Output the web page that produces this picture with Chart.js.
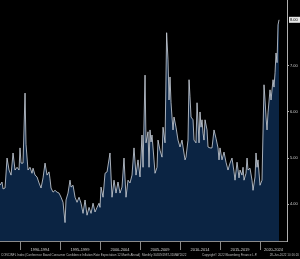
<!DOCTYPE html>
<html>
<head>
<meta charset="utf-8">
<script src="https://cdn.jsdelivr.net/npm/chart.js@4"></script>
<style>
  html, body { margin: 0; padding: 0; background: #000; }
  canvas { display: block; }
</style>
</head>
<body>
<canvas id="chart" width="300" height="259"></canvas>
<script>
// decimal year of each reading and the 12-month inflation expectation (%)
const years = [
  1987.5, 1987.75, 1987.88, 1988.13, 1988.38, 1988.63, 1988.88, 1989.13, 1989.38, 1989.63, 1989.88,
  1990.0, 1990.13, 1990.38, 1990.63, 1990.75, 1991.0, 1991.25, 1991.5, 1991.63, 1991.88,
  1992.13, 1992.38, 1992.63, 1992.88, 1993.13, 1993.38, 1993.63, 1993.75, 1993.88,
  1994.13, 1994.38, 1994.63, 1994.88, 1995.13, 1995.38, 1995.63, 1995.75,
  1996.0, 1996.25, 1996.38, 1996.63, 1996.88, 1997.13, 1997.38, 1997.63, 1997.88,
  1998.13, 1998.38, 1998.63, 1998.88, 1999.13, 1999.38, 1999.63, 1999.88,
  2000.0, 2000.13, 2000.38, 2000.63, 2000.88, 2001.25, 2001.5, 2001.75,
  2002.0, 2002.25, 2002.5, 2002.75, 2003.0, 2003.25, 2003.5, 2003.75,
  2004.0, 2004.25, 2004.5, 2004.75, 2005.0, 2005.25, 2005.38, 2005.63, 2005.75,
  2006.0, 2006.13, 2006.25, 2006.38, 2006.5, 2006.75, 2006.88,
  2007.13, 2007.25, 2007.5, 2007.75, 2007.88, 2008.13, 2008.33, 2008.5, 2008.63, 2008.75, 2008.88,
  2009.0, 2009.13, 2009.25, 2009.5, 2009.75,
  2010.0, 2010.25, 2010.38, 2010.63, 2010.75, 2011.0, 2011.13, 2011.25, 2011.38, 2011.63, 2011.75,
  2012.0, 2012.13, 2012.38, 2012.5, 2012.63, 2012.75, 2012.88,
  2013.0, 2013.13, 2013.38, 2013.5, 2013.75, 2014.0, 2014.25, 2014.5, 2014.75, 2014.88,
  2015.0, 2015.25, 2015.5, 2015.75, 2016.0, 2016.25, 2016.5, 2016.75, 2016.88,
  2017.13, 2017.38, 2017.5, 2017.75, 2017.88, 2018.0, 2018.25, 2018.38, 2018.5, 2018.75,
  2019.0, 2019.13, 2019.38, 2019.5, 2019.63, 2019.75,
  2020.0, 2020.25, 2020.5, 2020.63, 2020.75, 2020.88, 2021.0, 2021.25, 2021.38, 2021.63, 2021.75, 2021.88,
  2022.0, 2022.13, 2022.25, 2022.38
];
const values = [
  4.41, 4.48, 4.33, 4.35, 5.0, 4.74, 4.63, 5.11, 4.74, 4.8, 4.74,
  5.22, 4.89, 4.89, 6.41, 5.3, 4.74, 4.8, 4.67, 4.78, 4.63,
  4.59, 4.46, 4.35, 4.57, 4.89, 4.63, 4.7, 4.55, 4.35,
  4.26, 4.3, 4.26, 4.24, 4.15, 4.04, 3.6, 4.09,
  4.24, 4.52, 4.37, 4.41, 4.15, 4.04, 4.15, 4.02, 3.8,
  4.09, 3.76, 3.93, 3.8, 4.02, 3.83, 3.93, 4.02,
  3.93, 4.37, 4.15, 4.67, 4.7, 5.11, 4.15, 4.52,
  4.24, 4.48, 4.24, 4.37, 5.0, 4.15, 4.52, 4.46,
  4.63, 5.22, 4.63, 4.96, 4.59, 5.5, 4.8, 6.8, 5.33,
  5.57, 4.8, 5.61, 5.35, 5.5, 4.96, 4.67,
  4.8, 5.39, 5.17, 5.02, 5.67, 5.33, 7.72, 7.13, 6.26, 6.76, 6.2,
  5.89, 5.61, 5.89, 5.67, 5.39,
  5.24, 5.39, 5.24, 4.96, 5.02, 5.39, 6.7, 6.33, 5.89, 5.83, 5.39,
  5.33, 6.2, 5.33, 6.0, 5.67, 5.83, 5.54,
  5.39, 5.83, 5.61, 5.24, 5.22, 5.22, 5.61, 5.43, 5.22, 4.96,
  5.22, 4.96, 5.13, 4.91, 4.74, 4.89, 5.0, 4.7, 4.52,
  4.91, 4.57, 4.74, 4.63, 4.8, 4.52, 4.67, 5.0, 4.74, 4.78,
  4.52, 4.3, 4.59, 5.11, 4.8, 4.96,
  4.41, 4.52, 6.59, 6.26, 5.89, 5.61, 5.98, 6.48, 6.26, 6.7, 6.54, 6.85,
  7.28, 7.07, 7.89, 8.0
];
const periodStarts = [1990, 1995, 2000, 2005, 2010, 2015, 2020];
const periodLabels = ['1990-1994', '1995-1999', '2000-2004', '2005-2009', '2010-2014', '2015-2019', '2020-2024'];
const yTicks = [4, 5, 6, 7];

const footerLeft = 'CONCINFL Index (Conference Board Consumer Confidence Inflation Rate Expectation 12 Month Ahead)  Monthly 30JUN1987-31MAY2022';
const footerMid = 'Copyright\u00a9 2022 Bloomberg Finance L.P.';
const footerRight = '28-Jun-2022 10:16:20';

const X_MIN = 1987.5, X_MAX = 2023.375;
const FONT = "'Liberation Sans', Arial, sans-serif";

// separators between periods, last value box, footer line
const decorations = {
  id: 'decorations',
  afterDraw(chart) {
    const { ctx, chartArea, scales } = chart;
    const x = scales.x, y = scales.y;
    ctx.save();
    ctx.strokeStyle = '#8a8a8a';
    ctx.lineWidth = 1;
    ctx.beginPath();
    ctx.moveTo(0, chartArea.bottom + 0.5);
    ctx.lineTo(chartArea.right, chartArea.bottom + 0.5);
    ctx.stroke();
    periodStarts.forEach(s => {
      const px = Math.round(x.getPixelForValue(s)) + 0.5;
      ctx.beginPath();
      ctx.moveTo(px, chartArea.bottom);
      ctx.lineTo(px, chartArea.bottom + 9);
      ctx.stroke();
    });

    // last value box
    const last = values[values.length - 1];
    const py = y.getPixelForValue(last);
    ctx.fillStyle = '#e6e6e6';
    ctx.fillRect(chartArea.right + 2, py - 3, 11, 6);
    ctx.fillStyle = '#000';
    ctx.font = '4px ' + FONT;
    ctx.textBaseline = 'middle';
    ctx.textAlign = 'left';
    ctx.fillText(last.toFixed(2), chartArea.right + 3, py + 0.3);

    // footer
    ctx.fillStyle = '#bdbdbd';
    ctx.font = '3px ' + FONT;
    ctx.textBaseline = 'middle';
    ctx.textAlign = 'left';
    ctx.fillText(footerLeft, 1, 255.5);
    ctx.fillText(footerMid, 202, 255.5);
    ctx.textAlign = 'right';
    ctx.fillText(footerRight, 299, 255.5);
    ctx.restore();
  }
};

new Chart(document.getElementById('chart'), {
  type: 'line',
  data: {
    datasets: [{
      data: years.map((yr, i) => ({ x: yr, y: values[i] })),
      borderColor: '#cfd5de',
      borderWidth: 0.8,
      backgroundColor: '#0b2443',
      fill: 'start',
      pointRadius: 0,
      tension: 0
    }]
  },
  options: {
    responsive: false,
    animation: false,
    events: [],
    layout: { padding: 0 },
    plugins: { legend: { display: false }, tooltip: { enabled: false } },
    scales: {
      x: {
        type: 'linear',
        min: X_MIN,
        max: X_MAX,
        border: { display: false },
        grid: { display: false, drawTicks: false },
        afterBuildTicks: scale => {
          scale.ticks = periodStarts.map(s => ({ value: (s + Math.min(s + 5, X_MAX)) / 2 }));
        },
        ticks: {
          color: '#d0d0d0',
          font: { size: 4, family: FONT },
          maxRotation: 0,
          autoSkip: false,
          padding: 6,
          callback: (v, i) => periodLabels[i]
        },
        afterFit: scale => {
          scale.height = 18;
          scale.paddingLeft = 0;
          scale.paddingRight = 0;
        }
      },
      y: {
        position: 'right',
        min: 3.2,
        max: 8.43,
        border: { display: true, color: '#b0b0b0', width: 1 },
        grid: { drawOnChartArea: false, color: '#b0b0b0', tickLength: 2 },
        afterBuildTicks: scale => {
          scale.ticks = yTicks.map(v => ({ value: v }));
        },
        ticks: {
          color: '#d0d0d0',
          font: { size: 4, family: FONT },
          padding: 1,
          callback: v => v.toFixed(2)
        },
        afterFit: scale => {
          scale.width = 13;
          scale.paddingTop = 0;
          scale.paddingBottom = 0;
        }
      }
    }
  },
  plugins: [decorations]
});
</script>
</body>
</html>
